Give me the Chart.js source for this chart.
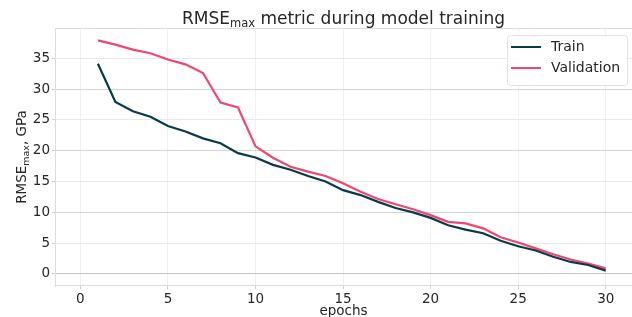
<!DOCTYPE html>
<html>
<head>
<meta charset="utf-8">
<script src="https://cdn.jsdelivr.net/npm/chart.js@4.4.1/dist/chart.umd.min.js"></script>
<style>
    html, body { margin: 0; padding: 0; background: #fff; }
    #wrap { width: 632px; height: 317px; }
</style>
</head>
<body>
<div id="wrap"><canvas id="chart1" width="632" height="317"></canvas></div>
<script>
// values
var epochs = [1, 2, 3, 4, 5, 6, 7, 8, 9, 10, 11, 12, 13, 14, 15, 16, 17, 18, 19, 20, 21, 22, 23, 24, 25, 26, 27, 28, 29, 30];
var trainValues = [34.1, 27.9, 26.4, 25.5, 24.0, 23.1, 22.0, 21.2, 19.6, 18.9, 17.7, 16.9, 15.9, 15.0, 13.6, 12.8, 11.7, 10.7, 10.0, 9.1, 7.9, 7.2, 6.6, 5.4, 4.5, 3.8, 2.8, 1.95, 1.45, 0.55];
var validationValues = [37.9, 37.2, 36.4, 35.8, 34.8, 34.0, 32.6, 27.8, 27.0, 20.7, 18.85, 17.4, 16.6, 15.9, 14.7, 13.35, 12.15, 11.3, 10.5, 9.55, 8.45, 8.2, 7.4, 5.95, 5.1, 4.15, 3.2, 2.35, 1.7, 0.9];
var seriesLabels = ['Train', 'Validation'];
var seriesColors = ['#073b4c', '#ef476f'];

var FONT = "'DejaVu Sans', sans-serif";

var toPoints = function (values) {
    var pts = [];
    for (var i = 0; i < epochs.length; i++) {
        pts.push({ x: epochs[i], y: values[i] });
    }
    return pts;
};

// draws the text parts the options can't do (subscripts, framed legend)
var decorations = {
    id: 'decorations',
    beforeDatasetsDraw: function (chart) {
        var ctx = chart.ctx;
        var a = chart.chartArea;
        ctx.save();
        ctx.strokeStyle = '#dcdcdc';
        ctx.lineWidth = 1;
        ctx.beginPath();
        ctx.moveTo(a.left, a.top + 0.5);
        ctx.lineTo(a.right, a.top + 0.5);
        ctx.moveTo(a.left, a.bottom - 0.5);
        ctx.lineTo(a.right, a.bottom - 0.5);
        ctx.stroke();
        ctx.restore();
    },
    afterDraw: function (chart) {
        var ctx = chart.ctx;
        var a = chart.chartArea;
        ctx.save();
        ctx.fillStyle = '#262626';
        ctx.textBaseline = 'alphabetic';

        // title
        var big = '17px ' + FONT, small = '11.5px ' + FONT;
        ctx.font = big;
        var w1 = ctx.measureText('RMSE').width;
        var w3 = ctx.measureText(' metric during model training').width;
        ctx.font = small;
        var w2 = ctx.measureText('max').width;
        var x = (a.left + a.right) / 2 - (w1 + w2 + w3) / 2;
        var y = 24;
        ctx.font = big; ctx.fillText('RMSE', x, y);
        ctx.font = small; ctx.fillText('max', x + w1, y + 3);
        ctx.font = big; ctx.fillText(' metric during model training', x + w1 + w2, y);

        // x axis title
        ctx.font = '13.5px ' + FONT;
        ctx.textAlign = 'center';
        ctx.fillText('epochs', (a.left + a.right) / 2, 315);

        // y axis title, rotated
        ctx.save();
        ctx.translate(26, 157);
        ctx.rotate(-Math.PI / 2);
        ctx.textAlign = 'left';
        var f1 = '13.5px ' + FONT, f2 = '9.5px ' + FONT;
        ctx.font = f1;
        var r1 = ctx.measureText('RMSE').width;
        var r3 = ctx.measureText(', GPa').width;
        ctx.font = f2;
        var r2 = ctx.measureText('max').width;
        var sx = -(r1 + r2 + r3) / 2;
        ctx.font = f1; ctx.fillText('RMSE', sx, 0);
        ctx.font = f2; ctx.fillText('max', sx + r1, 2.5);
        ctx.font = f1; ctx.fillText(', GPa', sx + r1 + r2, 0);
        ctx.restore();

        // legend in a rounded frame
        var bx = 507, by = 35, bw = 120, bh = 50;
        ctx.beginPath();
        ctx.roundRect(bx + 0.5, by + 0.5, bw, bh, 3);
        ctx.fillStyle = 'rgba(255,255,255,0.85)';
        ctx.fill();
        ctx.strokeStyle = '#e2e2e2';
        ctx.lineWidth = 1;
        ctx.stroke();
        ctx.font = '14px ' + FONT;
        ctx.textAlign = 'left';
        ctx.textBaseline = 'middle';
        var rows = [47, 68];
        for (var i = 0; i < chart.data.datasets.length; i++) {
            var ds = chart.data.datasets[i];
            ctx.strokeStyle = ds.borderColor;
            ctx.lineWidth = 2;
            ctx.beginPath();
            ctx.moveTo(511, rows[i]);
            ctx.lineTo(541, rows[i]);
            ctx.stroke();
            ctx.fillStyle = '#262626';
            ctx.fillText(ds.label, 551, rows[i]);
        }
        ctx.restore();
    }
};

var data = {
    datasets: [{
        label: seriesLabels[0],
        borderColor: seriesColors[0],
        backgroundColor: seriesColors[0],
        borderWidth: 2.2,
        pointRadius: 0,
        fill: false,
        data: toPoints(trainValues)
    }, {
        label: seriesLabels[1],
        borderColor: seriesColors[1],
        backgroundColor: seriesColors[1],
        borderWidth: 2.2,
        pointRadius: 0,
        fill: false,
        data: toPoints(validationValues)
    }]
};

var config = {
    type: 'line',
    data: data,
    plugins: [decorations],
    options: {
        responsive: false,
        animation: false,
        layout: {
            padding: { top: 28, right: 0, left: 0, bottom: 0 }
        },
        plugins: {
            legend: { display: false },
            title: { display: false },
            tooltip: { enabled: false }
        },
        scales: {
            x: {
                type: 'linear',
                min: -1.45,
                max: 31.5,
                afterFit: function (scale) { scale.height = 31; },
                afterBuildTicks: function (scale) {
                    scale.ticks = scale.ticks.filter(function (t) { return t.value >= 0 && t.value <= 30; });
                },
                ticks: {
                    stepSize: 5,
                    includeBounds: false,
                    color: '#262626',
                    padding: 2,
                    maxRotation: 0,
                    font: { family: FONT, size: 13.5 }
                },
                grid: {
                    color: '#f1f1f1',
                    tickColor: '#cfcfcf',
                    tickLength: 3
                },
                border: { display: false }
            },
            y: {
                min: -1.95,
                max: 39.9,
                afterFit: function (scale) { scale.width = 55; },
                ticks: {
                    stepSize: 5,
                    includeBounds: false,
                    color: '#262626',
                    padding: 2,
                    font: { family: FONT, size: 13.5 }
                },
                grid: {
                    color: function (ctx) {
                        if (ctx.tick && ctx.tick.value === 0) return '#c4c4c4';
                        return (ctx.tick && ctx.tick.value % 10 === 0) ? '#d4d4d4' : '#e9e9e9';
                    },
                    tickColor: '#cfcfcf',
                    tickLength: 3
                },
                border: { display: true, color: '#dcdcdc', width: 1 }
            }
        }
    }
};

var chart1 = new Chart(document.getElementById('chart1'), config);
</script>
</body>
</html>
